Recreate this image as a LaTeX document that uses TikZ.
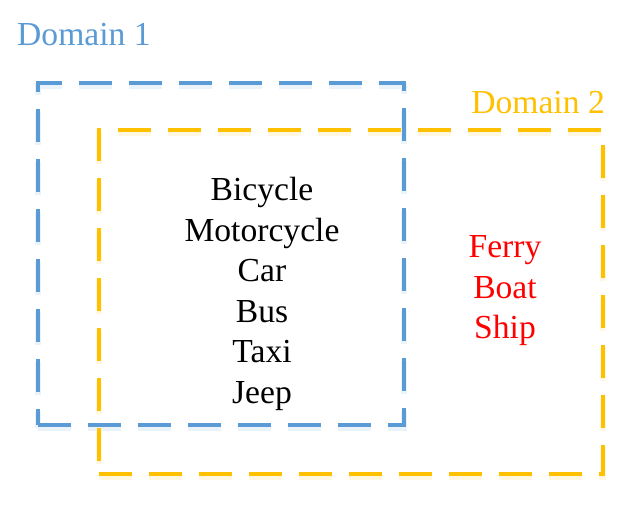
\documentclass[tikz,border=0pt]{standalone}
\usepackage{fontspec}
\setmainfont{Liberation Serif}
\usetikzlibrary{positioning}
\definecolor{dblue}{HTML}{5B9BD5}
\definecolor{dyellow}{HTML}{FFC000}

\begin{document}
\begin{tikzpicture}[x=1pt,y=-1pt,
  every node/.style={font=\fontsize{33.6}{40.5}\selectfont,align=center,inner sep=0pt,},%
  dom/.style={draw=#1,line width=3.6pt,dash pattern=on 33pt off 17pt,%
    preaction={draw=#1!35,line width=6pt,opacity=.35,dash pattern=on 33pt off 17pt,%
      transform canvas={yshift=-3pt}},},%
  lab/.style={text=#1,anchor=base west,},%
  ]
  \useasboundingbox (0,0) rectangle (632,505);

  \node (dom1) [dom=dblue,minimum width=366pt,minimum height=342pt] at (221,254) {};
  \node (dom2) [dom=dyellow,minimum width=504pt,minimum height=344pt] at (351,302) {};

  \node (lab1) [lab=dblue] at (17,46) {Domain 1};
  \node (lab2) [lab=dyellow,anchor=base east] at (605,114) {Domain 2};

  \node (shared) at (262,294) {Bicycle\\Motorcycle\\Car\\Bus\\Taxi\\Jeep};
  \node (only2) [text=red] at (505,291) {Ferry\\Boat\\Ship};
\end{tikzpicture}
\end{document}
